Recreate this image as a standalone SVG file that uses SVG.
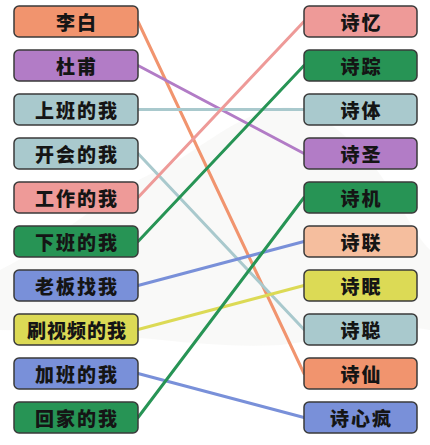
<svg xmlns="http://www.w3.org/2000/svg" width="430" height="445" viewBox="0 0 430 445">
<style>
.box{stroke:#3a3a3a;stroke-width:1.5}
.t{font-family:"Noto Sans CJK SC","Noto Sans CJK JP",sans-serif;font-weight:900;font-size:19px;letter-spacing:2px;fill:#151515;text-anchor:middle;dominant-baseline:central}
.c{fill:none;stroke-width:3;stroke-linecap:round}
.orange{fill:#F1946E}.purple{fill:#B27CC6}.teal{fill:#A9C9CD}.pink{fill:#EE9A98}.green{fill:#279455}.blue{fill:#7990D9}.yellow{fill:#DCDA55}.peach{fill:#F5BE9E}
</style>
<rect width="430" height="445" fill="#ffffff"/>
<path d="M0,270 C60,240 110,190 160,170 C200,150 230,120 270,110 C300,100 330,120 360,150 C390,180 410,230 430,250 L430,330 C380,320 330,340 280,345 C200,350 120,330 0,330 Z" fill="#f3f3f1" opacity="0.5"/>
<g id="connectors">
<line class="c" x1="138" y1="21.5" x2="304" y2="373.5" stroke="#F1946E"/>
<line class="c" x1="138" y1="65.5" x2="304" y2="153.5" stroke="#B27CC6"/>
<line class="c" x1="138" y1="109.5" x2="304" y2="109.5" stroke="#A9C9CD"/>
<line class="c" x1="138" y1="153.5" x2="304" y2="329.5" stroke="#A9C9CD"/>
<line class="c" x1="138" y1="197.5" x2="304" y2="21.5" stroke="#EE9A98"/>
<line class="c" x1="138" y1="241.5" x2="304" y2="65.5" stroke="#279455"/>
<line class="c" x1="138" y1="285.5" x2="304" y2="241.5" stroke="#7990D9"/>
<line class="c" x1="138" y1="329.5" x2="304" y2="285.5" stroke="#DCDA55"/>
<line class="c" x1="138" y1="373.5" x2="304" y2="417.5" stroke="#7990D9"/>
<line class="c" x1="138" y1="417.5" x2="304" y2="197.5" stroke="#279455"/>
</g>
<g id="L0"><rect class="box orange" x="14" y="6" width="124" height="31" rx="5"/><text class="t" x="77" y="21.5">李白</text></g>
<g id="L1"><rect class="box purple" x="14" y="50" width="124" height="31" rx="5"/><text class="t" x="77" y="65.5">杜甫</text></g>
<g id="L2"><rect class="box teal" x="14" y="94" width="124" height="31" rx="5"/><text class="t" x="77" y="109.5">上班的我</text></g>
<g id="L3"><rect class="box teal" x="14" y="138" width="124" height="31" rx="5"/><text class="t" x="77" y="153.5">开会的我</text></g>
<g id="L4"><rect class="box pink" x="14" y="182" width="124" height="31" rx="5"/><text class="t" x="77" y="197.5">工作的我</text></g>
<g id="L5"><rect class="box green" x="14" y="226" width="124" height="31" rx="5"/><text class="t" x="77" y="241.5">下班的我</text></g>
<g id="L6"><rect class="box blue" x="14" y="270" width="124" height="31" rx="5"/><text class="t" x="77" y="285.5">老板找我</text></g>
<g id="L7"><rect class="box yellow" x="14" y="314" width="124" height="31" rx="5"/><text class="t" x="77" y="329.5" style="letter-spacing:1px">刷视频的我</text></g>
<g id="L8"><rect class="box blue" x="14" y="358" width="124" height="31" rx="5"/><text class="t" x="77" y="373.5">加班的我</text></g>
<g id="L9"><rect class="box green" x="14" y="402" width="124" height="31" rx="5"/><text class="t" x="77" y="417.5">回家的我</text></g>
<g id="R0"><rect class="box pink" x="304" y="6" width="113" height="31" rx="5"/><text class="t" x="361.5" y="21.5">诗忆</text></g>
<g id="R1"><rect class="box green" x="304" y="50" width="113" height="31" rx="5"/><text class="t" x="361.5" y="65.5">诗踪</text></g>
<g id="R2"><rect class="box teal" x="304" y="94" width="113" height="31" rx="5"/><text class="t" x="361.5" y="109.5">诗体</text></g>
<g id="R3"><rect class="box purple" x="304" y="138" width="113" height="31" rx="5"/><text class="t" x="361.5" y="153.5">诗圣</text></g>
<g id="R4"><rect class="box green" x="304" y="182" width="113" height="31" rx="5"/><text class="t" x="361.5" y="197.5">诗机</text></g>
<g id="R5"><rect class="box peach" x="304" y="226" width="113" height="31" rx="5"/><text class="t" x="361.5" y="241.5">诗联</text></g>
<g id="R6"><rect class="box yellow" x="304" y="270" width="113" height="31" rx="5"/><text class="t" x="361.5" y="285.5">诗眠</text></g>
<g id="R7"><rect class="box teal" x="304" y="314" width="113" height="31" rx="5"/><text class="t" x="361.5" y="329.5">诗聪</text></g>
<g id="R8"><rect class="box orange" x="304" y="358" width="113" height="31" rx="5"/><text class="t" x="361.5" y="373.5">诗仙</text></g>
<g id="R9"><rect class="box blue" x="304" y="402" width="113" height="31" rx="5"/><text class="t" x="361.5" y="417.5">诗心疯</text></g>
</svg>
